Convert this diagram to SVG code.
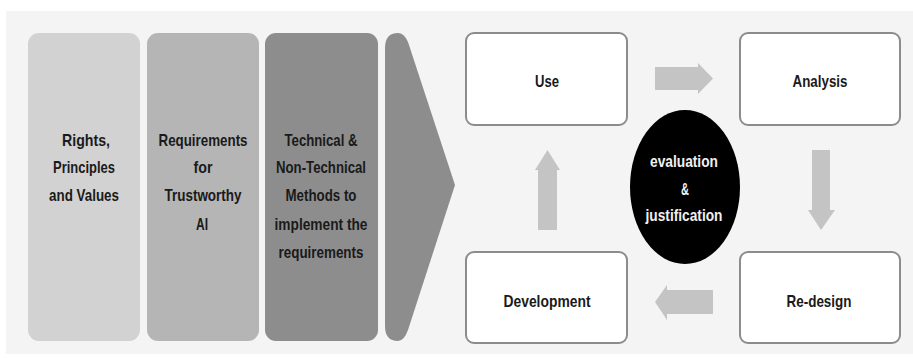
<svg xmlns="http://www.w3.org/2000/svg" width="913" height="358" viewBox="0 0 913 358">
<style>
text{font-family:"Liberation Sans",Arial,sans-serif;font-weight:bold;font-size:17px;text-anchor:middle}
.lbl{fill:#1a1a1a}
.wlbl{fill:#f0f0f0}
.box{fill:#ffffff;stroke:#8c8c8c;stroke-width:2}
.arr{fill:#c4c4c4}
</style>
<rect x="0" y="0" width="913" height="358" fill="#ffffff"/>
<rect x="6" y="11" width="907" height="343" fill="#f4f4f4"/>
<g id="panel-rights">
<rect x="28" y="33" width="112" height="308" rx="11" fill="#d2d2d2"/>
<text class="lbl" x="86" y="146" textLength="48" lengthAdjust="spacingAndGlyphs">Rights,</text>
<text class="lbl" x="84" y="173" textLength="62" lengthAdjust="spacingAndGlyphs">Principles</text>
<text class="lbl" x="84" y="201" textLength="70" lengthAdjust="spacingAndGlyphs">and Values</text>
</g>
<g id="panel-requirements">
<rect x="147" y="33" width="112" height="308" rx="11" fill="#b5b5b5"/>
<text class="lbl" x="203" y="146" textLength="89" lengthAdjust="spacingAndGlyphs">Requirements</text>
<text class="lbl" x="203" y="173" textLength="19" lengthAdjust="spacingAndGlyphs">for</text>
<text class="lbl" x="203" y="201" textLength="77" lengthAdjust="spacingAndGlyphs">Trustworthy</text>
<text class="lbl" x="202" y="230" textLength="12" lengthAdjust="spacingAndGlyphs">AI</text>
</g>
<g id="panel-methods">
<rect x="265" y="33" width="113" height="308" rx="11" fill="#8d8d8d"/>
<text class="lbl" x="321" y="146" textLength="73" lengthAdjust="spacingAndGlyphs">Technical &amp;</text>
<text class="lbl" x="321" y="173" textLength="90" lengthAdjust="spacingAndGlyphs">Non-Technical</text>
<text class="lbl" x="321" y="201" textLength="71" lengthAdjust="spacingAndGlyphs">Methods to</text>
<text class="lbl" x="321" y="230" textLength="93" lengthAdjust="spacingAndGlyphs">implement the</text>
<text class="lbl" x="321" y="258" textLength="85" lengthAdjust="spacingAndGlyphs">requirements</text>
</g>
<g id="chevron">
<path d="M385 48 Q385 33 398 33 Q404 33 408 42 L455 185 L408 330 Q404 341 398 341 Q385 341 385 326 Z" fill="#8d8d8d"/>
</g>
<g id="connectors">
<polygon class="arr" points="655,67 698,67 698,63 713,78.5 698,94 698,90 655,90"/>
<polygon class="arr" points="812,150 830,150 830,210 835,210 821,230 808,210 812,210"/>
<polygon class="arr" points="713,290 667,290 667,285 655,302 667,320 667,314 713,314"/>
<polygon class="arr" points="538,230 557,230 557,170 560,170 547.5,150 535,170 538,170"/>
</g>
<g id="node-use">
<rect class="box" x="466" y="33" width="161" height="92" rx="8"/>
<text class="lbl" x="547" y="87" textLength="24" lengthAdjust="spacingAndGlyphs">Use</text>
</g>
<g id="node-analysis">
<rect class="box" x="740" y="33" width="160" height="92" rx="8"/>
<text class="lbl" x="820" y="87" textLength="55" lengthAdjust="spacingAndGlyphs">Analysis</text>
</g>
<g id="node-development">
<rect class="box" x="466" y="252" width="161" height="91" rx="8"/>
<text class="lbl" x="547" y="307" textLength="87" lengthAdjust="spacingAndGlyphs">Development</text>
</g>
<g id="node-redesign">
<rect class="box" x="740" y="252" width="160" height="91" rx="8"/>
<text class="lbl" x="819" y="307" textLength="65" lengthAdjust="spacingAndGlyphs">Re-design</text>
</g>
<g id="node-evaluation">
<ellipse cx="685" cy="187" rx="55" ry="77" fill="#000000"/>
<text class="wlbl" x="684" y="167" textLength="68" lengthAdjust="spacingAndGlyphs">evaluation</text>
<text class="wlbl" x="685" y="195" textLength="8" lengthAdjust="spacingAndGlyphs">&amp;</text>
<text class="wlbl" x="684" y="221" textLength="77" lengthAdjust="spacingAndGlyphs">justification</text>
</g>
</svg>
